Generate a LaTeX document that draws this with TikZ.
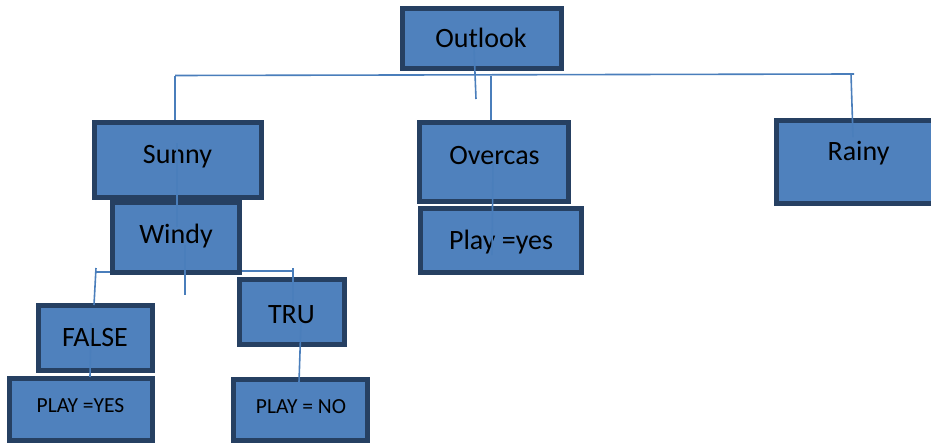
\documentclass[tikz,border=0pt]{standalone}
\usepackage{fontspec}
\setmainfont{Carlito}
\definecolor{boxfill}{RGB}{79,129,189}
\definecolor{boxedge}{RGB}{38,64,98}
\definecolor{wire}{RGB}{74,126,187}
\begin{document}
\begin{tikzpicture}[x=1pt,y=-1pt,
  box/.style={rectangle,draw=boxedge,fill=boxfill,line width=5pt,inner sep=0pt},
  big/.style={inner sep=0pt,anchor=base,font=\fontsize{28}{30}\selectfont},
  small/.style={inner sep=0pt,anchor=base,font=\fontsize{21.5}{24}\selectfont},
  wire/.style={draw=wire,line width=1.6pt}]
\useasboundingbox (0,0) rectangle (931,444);

% boxes
\node[box,minimum width=159,minimum height=60] (outlook) at (482,38.5) {};
\node[box,minimum width=167,minimum height=75] (sunny) at (178,160) {};
\node[box,minimum width=127,minimum height=70] (windy) at (176,237.5) {};
\node[box,minimum width=149,minimum height=79] (overcas) at (494,162) {};
\node[box,minimum width=161,minimum height=64] (playyes) at (501,240.5) {};
\node[box,minimum width=161,minimum height=83] (rainy) at (857,162) {};
\node[box,minimum width=114,minimum height=65] (false) at (95.5,338) {};
\node[box,minimum width=143,minimum height=62] (falseplay) at (81,409.5) {};
\node[box,minimum width=105,minimum height=65] (tru) at (292,312) {};
\node[box,minimum width=134,minimum height=61] (truplay) at (300.5,410) {};

% labels
\node[big] (outlookT) at (481,48) {Outlook};
\node[big] (sunnyT) at (177.5,163) {Sunny};
\node[big] (windyT) at (176,243) {Windy};
\node[big] (overcasT) at (494.5,164) {Overcas};
\node[big] (playyesT) at (501,249) {Play =yes};
\node[big] (rainyT) at (858.5,160) {Rainy};
\node[big] (falseT) at (95,346) {FALSE};
\node[big] (truT) at (291.5,323) {TRU};
\node[small] (falseplayT) at (80.5,412) {PLAY =YES};
\node[small] (truplayT) at (301,413) {PLAY = NO};

% junction points
\coordinate (barL) at (175,75.5);
\coordinate (barR) at (854,74);
\coordinate (outA) at (474,48);
\coordinate (outB) at (476,99);
\coordinate (ovA) at (491,76);
\coordinate (rnA) at (851,74);
\coordinate (rnB) at (853,137);
\coordinate (snA) at (177,143);
\coordinate (snB) at (177,227);
\coordinate (wdA) at (185,245);
\coordinate (wdB) at (185,295);
\coordinate (ocA) at (493,163);
\coordinate (ocB) at (492,255);
\coordinate (lbA) at (96,268);
\coordinate (lbB) at (94,305);
\coordinate (lbC) at (96,272);
\coordinate (rbA) at (293,268);
\coordinate (rbB) at (293,305);
\coordinate (rbC) at (293,271);
\coordinate (trA) at (301,322);
\coordinate (trB) at (299,382);
\coordinate (fsA) at (91,323);
\coordinate (fsB) at (90,377);

% connectors
\path[wire] (barL) -- (barR);
\path[wire] (barL) -- (sunny.north -| barL);
\path[wire] (outA) -- (outB);
\path[wire] (ovA) -- (overcas.north -| ovA);
\path[wire] (rnA) -- (rnB);
\path[wire] (snA) -- (snB);
\path[wire] (wdA) -- (wdB);
\path[wire] (ocA) -- (ocB);
\path[wire] (lbC) -- (windy.west |- lbC);
\path[wire] (lbA) -- (lbB);
\path[wire] (windy.east |- rbC) -- (rbC);
\path[wire] (rbA) -- (rbB);
\path[wire] (trA) -- (trB);
\path[wire] (fsA) -- (fsB);
\end{tikzpicture}
\end{document}
